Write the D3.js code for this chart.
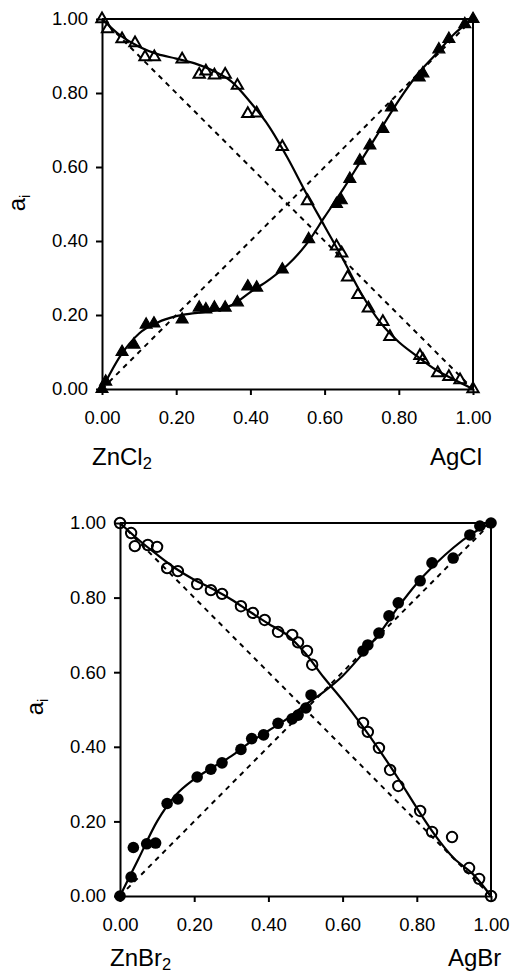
<!DOCTYPE html>
<html>
<head>
<meta charset="utf-8">
<script src="https://cdn.jsdelivr.net/npm/d3@7"></script>
<style>
body {margin: 0; background: #fff;}
svg {display: block; font-family: "Liberation Sans", Arial, sans-serif;}
.axis text {font-size: 18.5px; fill: #000;}
.axis path, .axis line {stroke: #000; stroke-width: 2px;}
.frame {fill: none; stroke: #000; stroke-width: 2px;}
.fit {fill: none; stroke: #000; stroke-width: 2.2px;}
.ideal {fill: none; stroke: #000; stroke-width: 2px; stroke-dasharray: 5,5;}
.label {font-size: 24px; fill: #000;}
</style>
</head>
<body>
<svg id="chart" width="513" height="973"></svg>
<script>
// tick values, same for both axes of both panels
var ticks = [0, 0.2, 0.4, 0.6, 0.8, 1.0];

// dashed ideal lines
var idealX = [0, 1];
var idealUp = [0, 1];
var idealDown = [1, 0];

// top panel: ZnCl2 - AgCl (open = ZnCl2, filled = AgCl)
var topOpenX = [0, 0.015, 0.054, 0.089, 0.116, 0.141, 0.216, 0.262, 0.28, 0.303, 0.332, 0.365, 0.393, 0.417, 0.486, 0.554, 0.632, 0.646, 0.662, 0.69, 0.718, 0.757, 0.776, 0.857, 0.865, 0.905, 0.935, 0.965, 1];
var topOpenY = [1, 0.973, 0.946, 0.935, 0.897, 0.897, 0.891, 0.85, 0.859, 0.848, 0.85, 0.82, 0.744, 0.745, 0.655, 0.508, 0.386, 0.367, 0.302, 0.255, 0.218, 0.182, 0.141, 0.09, 0.079, 0.043, 0.033, 0.024, 0];
var topFilledX = [0, 0.01, 0.054, 0.086, 0.119, 0.14, 0.216, 0.262, 0.28, 0.303, 0.332, 0.365, 0.393, 0.417, 0.486, 0.557, 0.632, 0.645, 0.668, 0.695, 0.722, 0.757, 0.78, 0.855, 0.865, 0.908, 0.935, 0.978, 1];
var topFilledY = [0, 0.02, 0.10, 0.12, 0.174, 0.177, 0.188, 0.22, 0.215, 0.22, 0.22, 0.234, 0.277, 0.274, 0.323, 0.405, 0.5, 0.51, 0.568, 0.617, 0.658, 0.703, 0.761, 0.842, 0.853, 0.918, 0.946, 0.986, 1];
var fitX = [0, 0.05, 0.1, 0.15, 0.2, 0.25, 0.3, 0.35, 0.4, 0.45, 0.5, 0.55, 0.6, 0.65, 0.7, 0.75, 0.8, 0.85, 0.9, 0.95, 1];
var topFitOpen = [1, 0.955, 0.925, 0.905, 0.893, 0.88, 0.86, 0.83, 0.775, 0.71, 0.625, 0.53, 0.44, 0.35, 0.256, 0.18, 0.127, 0.088, 0.052, 0.025, 0];
var topFitFilled = [0, 0.09, 0.15, 0.18, 0.197, 0.205, 0.212, 0.227, 0.262, 0.295, 0.335, 0.39, 0.465, 0.54, 0.62, 0.7, 0.78, 0.85, 0.905, 0.96, 1];

// bottom panel: ZnBr2 - AgBr (open = ZnBr2, filled = AgBr)
var botOpenX = [0, 0.03, 0.04, 0.075, 0.1, 0.127, 0.156, 0.208, 0.245, 0.275, 0.326, 0.358, 0.39, 0.426, 0.464, 0.48, 0.504, 0.518, 0.655, 0.668, 0.698, 0.728, 0.75, 0.809, 0.841, 0.895, 0.941, 0.968, 1];
var botOpenY = [1, 0.973, 0.938, 0.941, 0.936, 0.879, 0.871, 0.836, 0.82, 0.81, 0.777, 0.759, 0.74, 0.708, 0.7, 0.68, 0.657, 0.62, 0.464, 0.44, 0.397, 0.338, 0.295, 0.228, 0.172, 0.158, 0.075, 0.046, 0];
var botFilledX = [0, 0.03, 0.036, 0.072, 0.096, 0.127, 0.156, 0.208, 0.245, 0.275, 0.326, 0.355, 0.387, 0.426, 0.464, 0.48, 0.501, 0.515, 0.655, 0.668, 0.698, 0.725, 0.75, 0.809, 0.841, 0.898, 0.943, 0.97, 1];
var botFilledY = [0, 0.051, 0.13, 0.14, 0.142, 0.248, 0.26, 0.319, 0.34, 0.357, 0.393, 0.422, 0.432, 0.463, 0.475, 0.485, 0.504, 0.539, 0.657, 0.673, 0.705, 0.751, 0.786, 0.845, 0.893, 0.906, 0.968, 0.992, 1];
var botFitOpen = [1, 0.955, 0.915, 0.878, 0.848, 0.823, 0.795, 0.762, 0.73, 0.7, 0.65, 0.585, 0.525, 0.46, 0.39, 0.315, 0.236, 0.162, 0.101, 0.06, 0];
var botFitFilled = [0, 0.1, 0.2, 0.27, 0.313, 0.345, 0.375, 0.412, 0.443, 0.475, 0.513, 0.548, 0.59, 0.645, 0.705, 0.775, 0.838, 0.89, 0.935, 0.972, 1];

var svg = d3.select('#chart');

function zip(xs, ys) {
    return xs.map(function(d, i) { return [d, ys[i]]; });
}

function drawPanel(p) {
    var x = d3.scaleLinear().domain([0, 1]).range([p.l, p.r]);
    var y = d3.scaleLinear().domain([0, 1]).range([p.b, p.t]);
    var g = svg.append('g');

    var line = d3.line()
        .x(function(d) { return x(d[0]); })
        .y(function(d) { return y(d[1]); });
    var smooth = d3.line()
        .curve(d3.curveMonotoneX)
        .x(function(d) { return x(d[0]); })
        .y(function(d) { return y(d[1]); });

    // dashed ideal lines
    g.append('path').attr('class', 'ideal').attr('d', line(zip(idealX, idealUp)));
    g.append('path').attr('class', 'ideal').attr('d', line(zip(idealX, idealDown)));

    // fitted curves
    g.append('path').attr('class', 'fit').attr('d', smooth(zip(fitX, p.fitOpen)));
    g.append('path').attr('class', 'fit').attr('d', smooth(zip(fitX, p.fitFilled)));

    // top and right side of the box
    g.append('path').attr('class', 'frame')
        .attr('d', line([[0, 1], [1, 1], [1, 0]]));

    // axes
    var fmt = d3.format('.2f');
    g.append('g').attr('class', 'axis')
        .attr('transform', 'translate(' + p.l + ',0)')
        .call(d3.axisLeft(y).tickValues(ticks).tickFormat(fmt).tickSizeInner(6).tickSizeOuter(0).tickPadding(8));
    g.append('g').attr('class', 'axis')
        .attr('transform', 'translate(0,' + p.b + ')')
        .call(d3.axisBottom(x).tickValues(ticks).tickFormat(fmt).tickSizeInner(6).tickSizeOuter(0).tickPadding(16));

    // markers
    var openPts = zip(p.openX, p.openY);
    var filledPts = zip(p.filledX, p.filledY);
    if (p.marker == 'triangle') {
        var tri = d3.symbol().type(d3.symbolTriangle).size(55);
        var triF = d3.symbol().type(d3.symbolTriangle).size(62);
        g.selectAll('.openPt').data(openPts).enter().append('path')
            .attr('class', 'openPt')
            .attr('transform', function(d) { return 'translate(' + x(d[0]) + ',' + y(d[1]) + ')'; })
            .attr('d', tri)
            .attr('fill', 'none').attr('stroke', '#000').attr('stroke-width', 2);
        g.selectAll('.filledPt').data(filledPts).enter().append('path')
            .attr('class', 'filledPt')
            .attr('transform', function(d) { return 'translate(' + x(d[0]) + ',' + y(d[1]) + ')'; })
            .attr('d', triF)
            .attr('fill', '#000').attr('stroke', '#000').attr('stroke-width', 1.2);
    } else {
        g.selectAll('.openPt').data(openPts).enter().append('circle')
            .attr('class', 'openPt')
            .attr('cx', function(d) { return x(d[0]); })
            .attr('cy', function(d) { return y(d[1]); })
            .attr('r', 5.2)
            .attr('fill', 'none').attr('stroke', '#000').attr('stroke-width', 2);
        g.selectAll('.filledPt').data(filledPts).enter().append('circle')
            .attr('class', 'filledPt')
            .attr('cx', function(d) { return x(d[0]); })
            .attr('cy', function(d) { return y(d[1]); })
            .attr('r', 5.8)
            .attr('fill', '#000');
    }

    // y label a_i
    var yl = g.append('text').attr('class', 'label')
        .attr('transform', 'translate(' + p.yLabelX + ',' + p.yLabelY + ') rotate(-90)')
        .attr('text-anchor', 'middle');
    yl.append('tspan').text('a');
    yl.append('tspan').attr('font-size', '15px').attr('dy', 5).text('i');

    // component names under the x axis
    var left = g.append('text').attr('class', 'label').attr('x', p.leftNameX).attr('y', p.nameY);
    left.append('tspan').text(p.leftName);
    left.append('tspan').attr('font-size', '16.5px').attr('dy', 4).text('2');
    g.append('text').attr('class', 'label').attr('x', p.rightNameX).attr('y', p.nameY).text(p.rightName);
}

drawPanel({
    l: 102, r: 473, t: 19, b: 389,
    openX: topOpenX, openY: topOpenY, filledX: topFilledX, filledY: topFilledY,
    fitOpen: topFitOpen, fitFilled: topFitFilled,
    marker: 'triangle',
    yLabelX: 25, yLabelY: 203,
    leftName: 'ZnCl', leftNameX: 92, rightName: 'AgCl', rightNameX: 430, nameY: 465
});

drawPanel({
    l: 120, r: 491, t: 523, b: 896,
    openX: botOpenX, openY: botOpenY, filledX: botFilledX, filledY: botFilledY,
    fitOpen: botFitOpen, fitFilled: botFitFilled,
    marker: 'circle',
    yLabelX: 43, yLabelY: 707,
    leftName: 'ZnBr', leftNameX: 110, rightName: 'AgBr', rightNameX: 448, nameY: 966
});
</script>
</body>
</html>
